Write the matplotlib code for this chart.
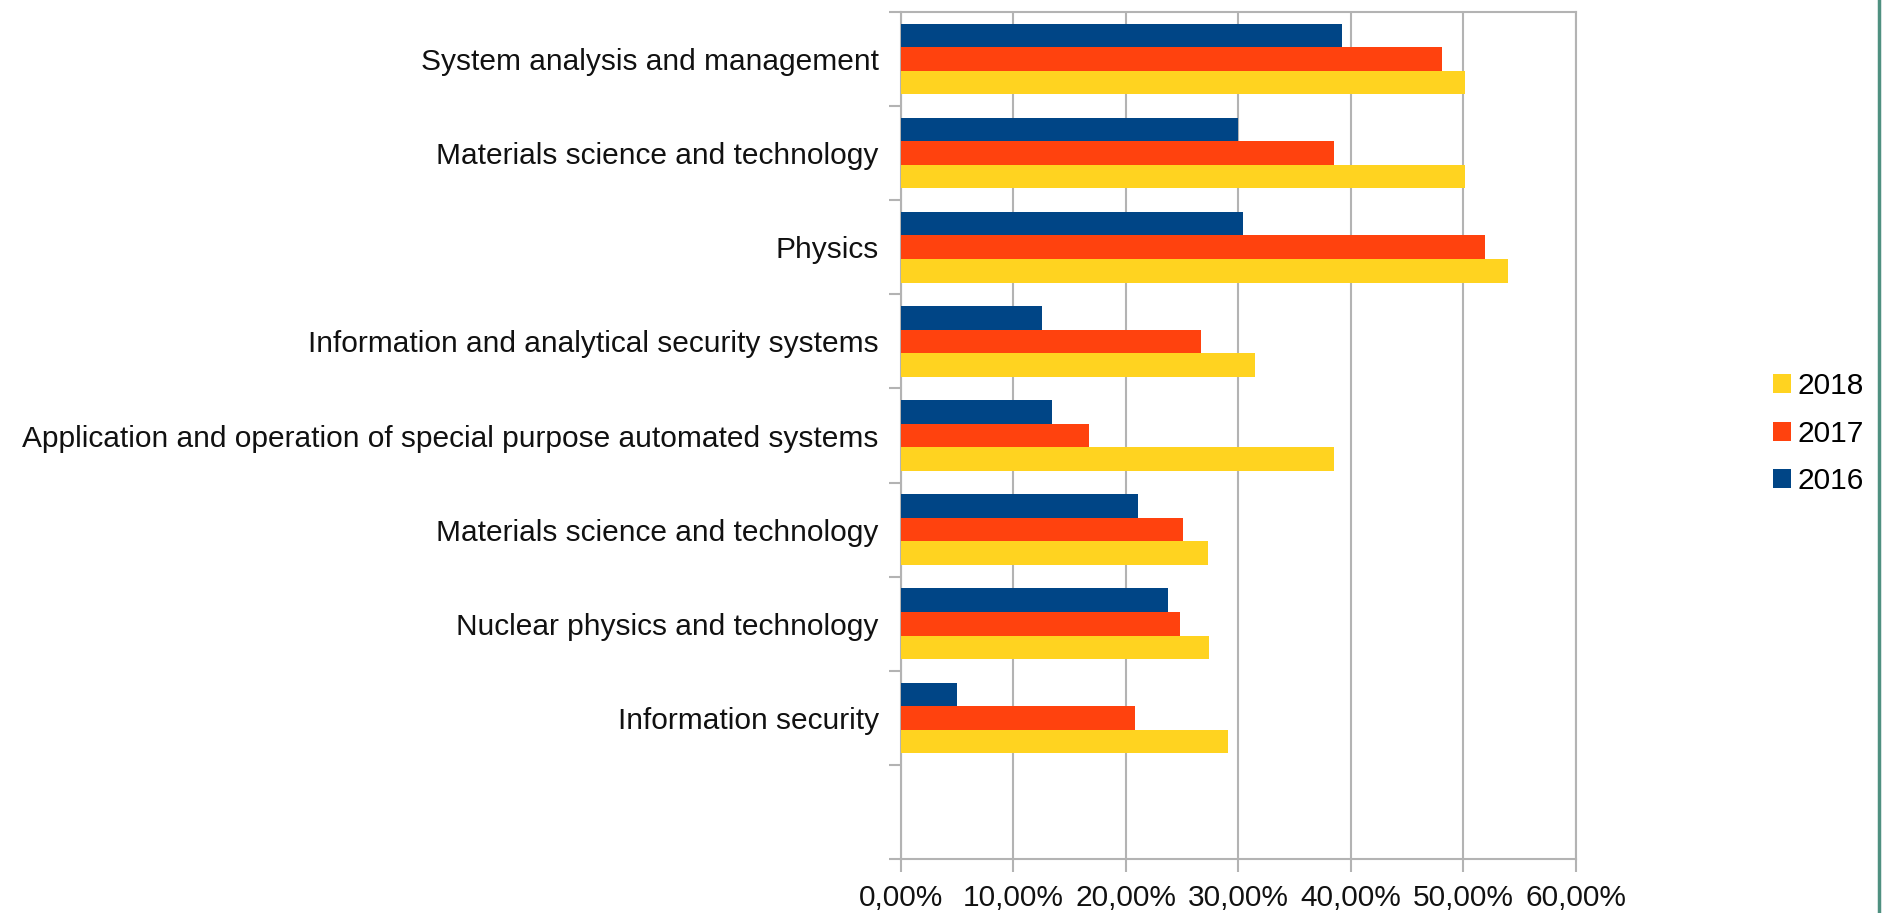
import numpy as np
import matplotlib
matplotlib.use('Agg')
import matplotlib.pyplot as plt
from matplotlib.ticker import FuncFormatter
from matplotlib.lines import Line2D

plt.rcParams['font.family'] = ['Liberation Sans', 'DejaVu Sans']

# categories from top to bottom
categories = ["System analysis and management",
              "Materials science and technology",
              "Physics",
              "Information and analytical security systems",
              "Application and operation of special purpose automated systems",
              "Materials science and technology",
              "Nuclear physics and technology",
              "Information security"]
v2016 = [39.2, 30.0, 30.4, 12.5, 13.4, 21.1, 23.7, 5.0]
v2017 = [48.1, 38.5, 51.9, 26.7, 16.7, 25.1, 24.8, 20.8]
v2018 = [50.1, 50.1, 54.0, 31.5, 38.5, 27.3, 27.4, 29.1]
xticks = [0, 10, 20, 30, 40, 50, 60]

c2016 = '#004586'
c2017 = '#ff420e'
c2018 = '#ffd320'
gray = '#b3b3b3'
fs = 21.5

fig = plt.figure(figsize=(18.82, 9.13), dpi=100)
ax = fig.add_axes([0.4787, 0.0591, 0.8374 - 0.4787, 0.9869 - 0.0591])

n = len(categories)
# slot 0 stays empty at the bottom
y = np.arange(n, 0, -1)
h = 0.25
ax.barh(y + h, v2016, height=h, color=c2016, label='2016', zorder=3)
ax.barh(y, v2017, height=h, color=c2017, label='2017', zorder=3)
ax.barh(y - h, v2018, height=h, color=c2018, label='2018', zorder=3)

ax.set_ylim(-0.5, n + 0.5)
ax.set_xlim(0, 60)
ax.set_xticks(xticks)
ax.xaxis.set_major_formatter(FuncFormatter(lambda v, p: ('%.2f%%' % v).replace('.', ',')))
ax.set_yticks(y)
ax.set_yticklabels(categories)
ax.set_yticks(np.arange(-0.5, n + 1, 1.0), minor=True)

ax.tick_params(axis='y', which='major', length=0, pad=16, labelsize=fs, colors='#111111')
ax.tick_params(axis='y', which='minor', length=9, width=1.5, color=gray, direction='out')
ax.tick_params(axis='x', which='major', length=9, width=1.5, color=gray, pad=9,
               labelsize=fs, labelcolor='#111111')

ax.grid(axis='x', color=gray, linewidth=1.5, zorder=0)
for s in ax.spines.values():
    s.set_color(gray)
    s.set_linewidth(1.5)

handles, labels = ax.get_legend_handles_labels()
leg = fig.legend(handles[::-1], labels[::-1], loc='center left',
                 bbox_to_anchor=(0.928, 0.525), frameon=False, fontsize=fs,
                 handlelength=0.6, handleheight=0.6, handletextpad=0.2,
                 labelspacing=0.65)

# thin border on the right edge of the screenshot
fig.add_artist(Line2D([0.9985, 0.9985], [0, 1], transform=fig.transFigure,
                      color='#4f9080', linewidth=2.5))

fig.savefig('out.png', dpi=100)
